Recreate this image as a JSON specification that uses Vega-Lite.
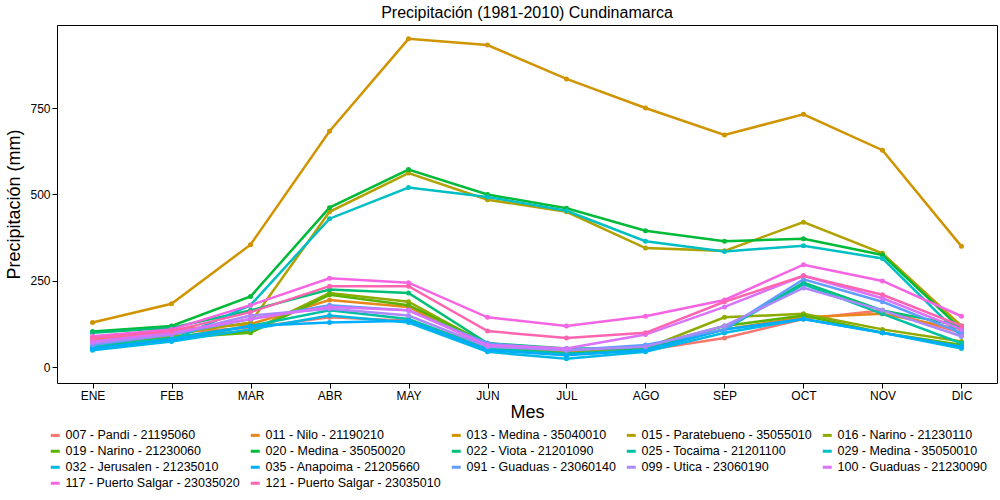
{
  "$schema": "https://vega.github.io/schema/vega-lite/v6.json",
  "width": 1000,
  "height": 500,
  "autosize": {"type": "fit", "contains": "padding"},
  "padding": {"left": 5, "right": 3, "top": 5, "bottom": 10},
  "title": {"text": "Precipitación (1981-2010)  Cundinamarca", "fontSize": 16, "font": "Liberation Sans", "fontWeight": "normal", "offset": 4},
  "config": {
    "view": {"stroke": "black", "strokeWidth": 1},
    "font": "Liberation Sans",
    "axis": {"grid": false, "domain": false, "tickColor": "black", "labelColor": "black", "labelFontSize": 12, "titleFontSize": 18, "titleFontWeight": "normal", "titleColor": "black"}
  },
  "data": {
    "values": [
      {"s": "007 - Pandi - 21195060", "ENE": 80, "FEB": 100, "MAR": 115, "ABR": 145, "MAY": 135, "JUN": 60, "JUL": 50, "AGO": 50, "SEP": 85, "OCT": 140, "NOV": 165, "DIC": 100},
      {"s": "011 - Nilo - 21190210", "ENE": 85, "FEB": 110, "MAR": 125, "ABR": 195, "MAY": 175, "JUN": 60, "JUL": 45, "AGO": 55, "SEP": 110, "OCT": 145, "NOV": 155, "DIC": 110},
      {"s": "013 - Medina - 35040010", "ENE": 130, "FEB": 184, "MAR": 355, "ABR": 683, "MAY": 950, "JUN": 932, "JUL": 834, "AGO": 750, "SEP": 672, "OCT": 732, "NOV": 628, "DIC": 350},
      {"s": "015 - Paratebueno - 35055010", "ENE": 70, "FEB": 95, "MAR": 130, "ABR": 450, "MAY": 562, "JUN": 485, "JUL": 450, "AGO": 345, "SEP": 337, "OCT": 420, "NOV": 330, "DIC": 120},
      {"s": "016 - Narino - 21230110", "ENE": 65, "FEB": 90, "MAR": 105, "ABR": 215, "MAY": 190, "JUN": 65, "JUL": 40, "AGO": 55, "SEP": 145, "OCT": 155, "NOV": 110, "DIC": 75},
      {"s": "019 - Narino - 21230060", "ENE": 60, "FEB": 85, "MAR": 100, "ABR": 210, "MAY": 180, "JUN": 70, "JUL": 50, "AGO": 60, "SEP": 120, "OCT": 150, "NOV": 100, "DIC": 65},
      {"s": "020 - Medina - 35050020", "ENE": 104, "FEB": 120, "MAR": 205, "ABR": 462, "MAY": 572, "JUN": 500, "JUL": 460, "AGO": 395, "SEP": 365, "OCT": 372, "NOV": 325, "DIC": 110},
      {"s": "022 - Viota - 21201090", "ENE": 100, "FEB": 115, "MAR": 165, "ABR": 225, "MAY": 215, "JUN": 70, "JUL": 55, "AGO": 55, "SEP": 110, "OCT": 245, "NOV": 165, "DIC": 120},
      {"s": "025 - Tocaima - 21201100", "ENE": 60, "FEB": 85, "MAR": 120, "ABR": 165, "MAY": 140, "JUN": 55, "JUL": 40, "AGO": 50, "SEP": 110, "OCT": 240, "NOV": 155, "DIC": 70},
      {"s": "029 - Medina - 35050010", "ENE": 55, "FEB": 78, "MAR": 180, "ABR": 430, "MAY": 520, "JUN": 493, "JUL": 453, "AGO": 365, "SEP": 335, "OCT": 352, "NOV": 315, "DIC": 90},
      {"s": "032 - Jerusalen - 21235010", "ENE": 50, "FEB": 75, "MAR": 110, "ABR": 150, "MAY": 130, "JUN": 45, "JUL": 25, "AGO": 45, "SEP": 100, "OCT": 140, "NOV": 100, "DIC": 55},
      {"s": "035 - Anapoima - 21205660", "ENE": 55, "FEB": 80, "MAR": 120, "ABR": 130, "MAY": 135, "JUN": 50, "JUL": 35, "AGO": 50, "SEP": 110, "OCT": 140, "NOV": 100, "DIC": 60},
      {"s": "091 - Guaduas - 23060140", "ENE": 65, "FEB": 95, "MAR": 140, "ABR": 180, "MAY": 165, "JUN": 70, "JUL": 50, "AGO": 65, "SEP": 110, "OCT": 255, "NOV": 190, "DIC": 100},
      {"s": "099 - Utica - 23060190", "ENE": 70, "FEB": 95, "MAR": 150, "ABR": 170, "MAY": 150, "JUN": 60, "JUL": 50, "AGO": 60, "SEP": 120, "OCT": 230, "NOV": 165, "DIC": 90},
      {"s": "100 - Guaduas - 21230090", "ENE": 75, "FEB": 100, "MAR": 140, "ABR": 175, "MAY": 165, "JUN": 65, "JUL": 55, "AGO": 95, "SEP": 175, "OCT": 265, "NOV": 200, "DIC": 110},
      {"s": "117 - Puerto Salgar - 23035020", "ENE": 90, "FEB": 110, "MAR": 180, "ABR": 258, "MAY": 245, "JUN": 145, "JUL": 120, "AGO": 148, "SEP": 195, "OCT": 297, "NOV": 250, "DIC": 148},
      {"s": "121 - Puerto Salgar - 23035010", "ENE": 85, "FEB": 105, "MAR": 160, "ABR": 235, "MAY": 235, "JUN": 105, "JUL": 85, "AGO": 100, "SEP": 190, "OCT": 265, "NOV": 210, "DIC": 120}
    ]
  },
  "transform": [
    {"fold": ["ENE", "FEB", "MAR", "ABR", "MAY", "JUN", "JUL", "AGO", "SEP", "OCT", "NOV", "DIC"], "as": ["mes", "pp"]}
  ],
  "encoding": {
    "x": {"field": "mes", "type": "ordinal", "sort": null, "title": "Mes", "scale": {"type": "point", "padding": 0.45}, "axis": {"labelAngle": 0, "titlePadding": 2}},
    "y": {"field": "pp", "type": "quantitative", "title": "Precipitación (mm)", "scale": {"domain": [-45, 990], "nice": false}, "axis": {"values": [0, 250, 500, 750], "titlePadding": 6}},
    "color": {
      "field": "s", "type": "nominal", "title": null,
      "scale": {"range": ["#F8766D", "#E7861B", "#D09400", "#B2A100", "#8FAA00", "#5BB300", "#00BA38", "#00BF74", "#00C0A3", "#00BFC4", "#00B8E5", "#00ACFC", "#619CFF", "#AC88FF", "#DB72FB", "#F564E3", "#FF64B0"]},
      "legend": {"orient": "bottom", "columns": 5, "direction": "horizontal", "gridAlign": "each", "labelFontSize": 12.5, "symbolType": "stroke", "symbolStrokeWidth": 3, "symbolSize": 80, "rowPadding": 3, "columnPadding": 4, "symbolOffset": -8, "offset": 8, "labelLimit": 200}
    },
    "detail": {"field": "s"}
  },
  "layer": [
    {"mark": {"type": "line", "strokeWidth": 2.5}},
    {"mark": {"type": "point", "filled": true, "size": 25, "opacity": 1}}
  ]
}
